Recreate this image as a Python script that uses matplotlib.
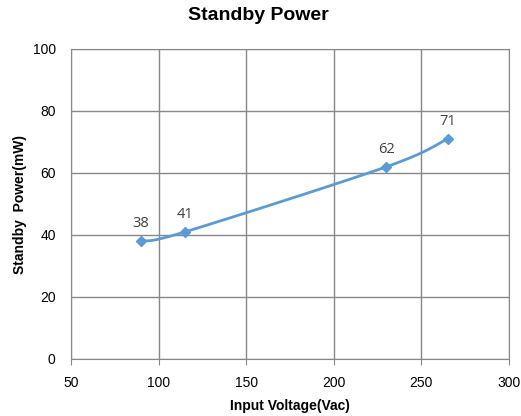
import numpy as np
import matplotlib.pyplot as plt

## data
voltage = [90, 115, 230, 265]
power = [38, 41, 62, 71]
point_labels = ["38", "41", "62", "71"]


## Excel style smoothed line (cardinal / catmull-rom bezier)
def smooth_line(xs, ys, n=40):
    xs = np.asarray(xs, float)
    ys = np.asarray(ys, float)
    px = np.concatenate([[xs[0]], xs, [xs[-1]]])
    py = np.concatenate([[ys[0]], ys, [ys[-1]]])
    outx, outy = [], []
    t = np.linspace(0, 1, n)
    for i in range(1, len(px) - 2):
        p0 = np.array([px[i], py[i]])
        p3 = np.array([px[i + 1], py[i + 1]])
        p1 = p0 + (np.array([px[i + 1], py[i + 1]]) - np.array([px[i - 1], py[i - 1]])) / 6
        p2 = p3 - (np.array([px[i + 2], py[i + 2]]) - np.array([px[i], py[i]])) / 6
        b = ((1 - t) ** 3)[:, None] * p0 + (3 * (1 - t) ** 2 * t)[:, None] * p1 \
            + (3 * (1 - t) * t ** 2)[:, None] * p2 + (t ** 3)[:, None] * p3
        outx.extend(b[:, 0])
        outy.extend(b[:, 1])
    return outx, outy


W, H = 521, 416
fig = plt.figure(figsize=(W / 100, H / 100), dpi=100)
ax = fig.add_axes([71 / W, 1 - 359 / H, (509 - 71) / W, (359 - 49) / H])

line_color = "#5B9BD5"
sx, sy = smooth_line(voltage, power)
ax.plot(sx, sy, color=line_color, linewidth=2)
ax.plot(voltage, power, linestyle="none", marker="D", markersize=5,
        color=line_color)

for x, y, lab in zip(voltage, power, point_labels):
    ax.annotate(lab, (x, y), xytext=(0, 7), textcoords="offset points",
                ha="center", va="bottom", fontsize=10.5, color="#404040",
                family="Open Sans")

ax.set_xlim(50, 300)
ax.set_ylim(0, 100)
ax.set_xticks(range(50, 301, 50))
ax.set_yticks(range(0, 101, 20))
ax.grid(True, color="#888888", linewidth=1)
ax.set_axisbelow(True)
for s in ax.spines.values():
    s.set_color("#888888")
ax.tick_params(axis="both", length=0, labelsize=10, colors="#404040", pad=11)
ax.tick_params(axis="x", length=4, color="#888888", direction="out", pad=8)
for lbl in ax.get_xticklabels() + ax.get_yticklabels():
    lbl.set_family("Liberation Sans")
    lbl.set_color("black")

ax.set_xlabel("Input Voltage(Vac)", fontsize=10, fontweight="bold",
              family="Liberation Sans", labelpad=7)
ax.set_ylabel("Standby  Power(mW)", fontsize=10, fontweight="bold",
              family="Liberation Sans", labelpad=10)
ax.yaxis.set_label_coords(-44 / (509 - 71), 0.5)
fig.text(258 / W, 1 - 16 / H, "Standby Power", ha="center", va="center",
         fontsize=14, fontweight="bold", family="Liberation Sans")

fig.savefig("out.png", dpi=100)
